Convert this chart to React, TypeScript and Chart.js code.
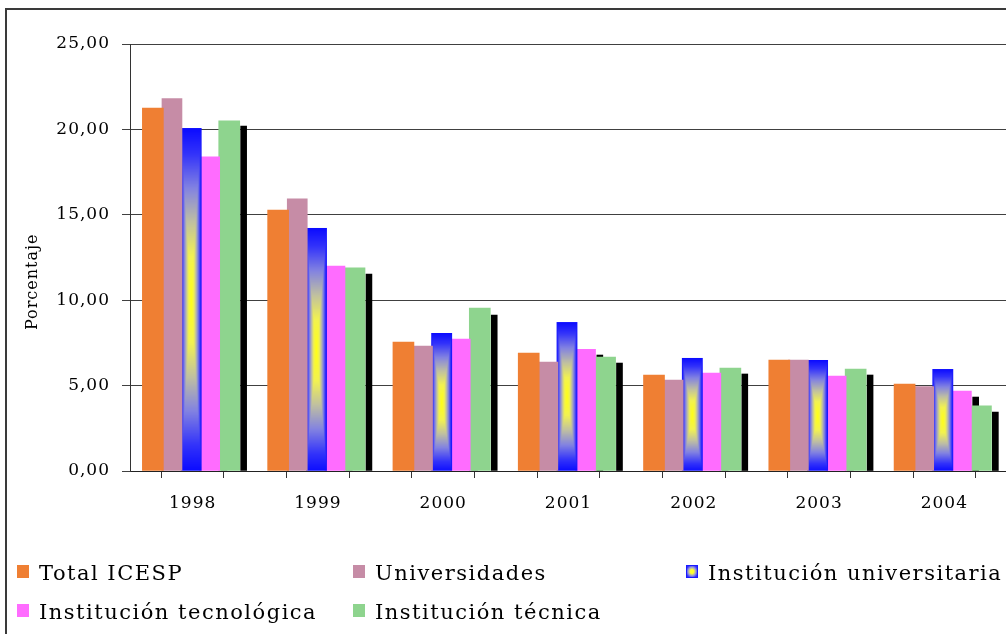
import React, { useEffect, useRef } from 'react';
import { Chart, registerables } from 'chart.js';

Chart.register(...registerables);

// ---------- data ----------
const YEARS = ['1998', '1999', '2000', '2001', '2002', '2003', '2004'];
const SERIES_LABELS = [
  'Total ICESP',
  'Universidades',
  'Institución universitaria',
  'Institución tecnológica',
  'Institución técnica',
];
const TOTAL_ICESP = [21.25, 15.28, 7.55, 6.91, 5.62, 6.5, 5.09];
const UNIVERSIDADES = [21.8, 15.93, 7.32, 6.38, 5.33, 6.5, 4.94];
const INST_UNIVERSITARIA = [20.08, 14.23, 8.08, 8.72, 6.62, 6.5, 5.97];
const INST_TECNOLOGICA = [18.4, 12.0, 7.73, 7.12, 5.74, 5.56, 4.68];
const INST_TECNICA = [20.5, 11.89, 9.54, 6.67, 6.03, 5.97, 3.81];
const SERIE_SIN_NOMBRE_A = [0, 0, 0, 6.79, 0, 0, 4.33];
const SERIE_SIN_NOMBRE_B = [20.2, 11.53, 9.13, 6.32, 5.68, 5.62, 3.45];
const Y_MAX = 25;
const Y_STEP = 5;
const Y_TITLE = 'Porcentaje';

// ---------- layout / style constants ----------
const OFFSETS = [-0.3175, -0.165, -0.012, 0.136, 0.292, 0.25, 0.407];
const THICK = [21, 20, 21, 20, 21, 6, 6];
const FONT = "'DejaVu Serif', serif";
const COLORS = ['#ef7f33', '#c68ca6', '#3030ff', '#ff6cff', '#8ed48e', '#000000', '#000000'];

const RAMP: [number, number[]][] = [
  [0, [255, 255, 20]],
  [0.25, [242, 242, 80]],
  [0.45, [192, 192, 160]],
  [0.65, [130, 130, 225]],
  [0.85, [50, 50, 250]],
  [1, [10, 10, 255]],
];
function rampColor(t: number) {
  for (let i = 1; i < RAMP.length; i++) {
    if (t <= RAMP[i][0]) {
      const [t0, c0] = RAMP[i - 1];
      const [t1, c1] = RAMP[i];
      const f = (t - t0) / (t1 - t0);
      return [0, 1, 2].map((k) => Math.round(c0[k] + (c1[k] - c0[k]) * f));
    }
  }
  return RAMP[RAMP.length - 1][1];
}

function blueFill(c: any) {
  if (c.type !== 'data') return COLORS[2];
  const chart = c.chart;
  const xs = chart.scales.x;
  const ys = chart.scales.y;
  if (!xs || !ys || !c.raw) return COLORS[2];
  const w = THICK[2];
  const cx = xs.getPixelForValue(c.raw.x);
  const top = ys.getPixelForValue(c.raw.y);
  const bottom = ys.getPixelForValue(0);
  const h = bottom - top;
  if (!isFinite(cx) || !isFinite(h) || h <= 1) return COLORS[2];
  const left = cx - w / 2;
  const W = Math.ceil(w);
  const H = Math.ceil(h);
  const off = document.createElement('canvas');
  off.width = W;
  off.height = H;
  const o = off.getContext('2d')!;
  const img = o.createImageData(W, H);
  for (let y = 0; y < H; y++) {
    const ty = Math.abs(y + 0.5 - H / 2) / (H / 2);
    for (let x = 0; x < W; x++) {
      const tx = Math.abs(x + 0.5 - W / 2) / (W / 2);
      const col = rampColor(Math.min(1, Math.max(tx, ty)));
      const p = (y * W + x) * 4;
      img.data[p] = col[0];
      img.data[p + 1] = col[1];
      img.data[p + 2] = col[2];
      img.data[p + 3] = 255;
    }
  }
  o.putImageData(img, 0, 0);
  const pat = chart.ctx.createPattern(off, 'no-repeat');
  pat.setTransform(new DOMMatrix([1, 0, 0, 1, left, top]));
  return pat;
}

const spacingPlugin = {
  id: 'letterSpacing',
  beforeUpdate(chart: any) {
    chart.ctx.letterSpacing = '1px';
  },
  beforeDraw(chart: any) {
    chart.ctx.letterSpacing = '1px';
  },
};

const LEGEND_BOX: any[] = [
  { background: COLORS[0] },
  { background: COLORS[1] },
  {
    background: 'radial-gradient(closest-side, #ffff30 0%, #ffff30 30%, #9a9ad8 65%, #3030ff 100%)',
    boxShadow: 'inset 0 0 0 1px #1a1aff',
  },
  { background: COLORS[3] },
  { background: COLORS[4] },
];
const LEGEND_POS = [
  [17, 565],
  [353, 565],
  [686, 565],
  [17, 604],
  [353, 604],
];

export default function App() {
  const ref = useRef<HTMLCanvasElement>(null);

  useEffect(() => {
    const canvas = ref.current!;
    const allSeries = [
      TOTAL_ICESP,
      UNIVERSIDADES,
      INST_UNIVERSITARIA,
      INST_TECNOLOGICA,
      INST_TECNICA,
      SERIE_SIN_NOMBRE_A,
      SERIE_SIN_NOMBRE_B,
    ];
    const datasets = allSeries.map((vals, k) => ({
      label: k < SERIES_LABELS.length ? SERIES_LABELS[k] : '',
      data: vals.map((v, i) => ({ x: i + OFFSETS[k], y: v })),
      backgroundColor: k === 2 ? blueFill : COLORS[k],
      borderWidth: 0,
      barThickness: THICK[k],
      grouped: false,
    }));

    const chart = new Chart(canvas, {
      type: 'bar',
      data: { datasets },
      plugins: [spacingPlugin],
      options: {
        animation: false,
        responsive: false,
        devicePixelRatio: 1,
        layout: { padding: { left: 14, top: 44, right: 10, bottom: 113 } },
        font: { family: FONT, size: 17 },
        color: '#000',
        plugins: {
          legend: { display: false },
          tooltip: { enabled: false },
        },
        scales: {
          x: {
            type: 'linear',
            min: -0.5,
            max: 6.5,
            offset: false,
            grid: { drawOnChartArea: false, drawTicks: true, tickLength: 7, color: '#333' },
            border: { display: true, color: '#222', width: 1 },
            ticks: {
              stepSize: 0.5,
              autoSkip: false,
              maxRotation: 0,
              minRotation: 0,
              padding: 15,
              color: '#000',
              font: { family: FONT, size: 17 },
              callback: (v: any) => (Number.isInteger(v) ? YEARS[v] : ''),
            },
            afterFit: (s: any) => {
              s.height = 50;
            },
          },
          y: {
            min: 0,
            max: Y_MAX,
            grid: { color: '#404040', tickLength: 8, lineWidth: 1 },
            border: { display: true, color: '#333', width: 1 },
            ticks: {
              stepSize: Y_STEP,
              padding: 12,
              color: '#000',
              font: { family: FONT, size: 17 },
              callback: (v: any) => Number(v).toFixed(2).replace('.', ','),
            },
            title: {
              display: true,
              text: Y_TITLE + '\u00a0'.repeat(8),
              color: '#000',
              font: { family: FONT, size: 16 },
              padding: { top: 9, bottom: 0 },
            },
            afterFit: (s: any) => {
              s.width = 116;
            },
          },
        },
      } as any,
    });
    return () => chart.destroy();
  }, []);

  return (
    <div
      style={{
        position: 'fixed',
        left: 0,
        top: 0,
        width: 1006,
        height: 634,
        overflow: 'hidden',
        background: '#fff',
      }}
    >
      <canvas
        ref={ref}
        width={1022}
        height={634}
        style={{ position: 'absolute', left: 0, top: 0, width: 1022, height: 634 }}
      />
      <div
        style={{
          position: 'absolute',
          left: 5,
          top: 8,
          width: 1200,
          height: 800,
          borderLeft: '2px solid #3a3a3a',
          borderTop: '2px solid #3a3a3a',
          pointerEvents: 'none',
        }}
      />
      {SERIES_LABELS.map((lab, k) => (
        <div key={lab}>
          <div
            style={{
              position: 'absolute',
              left: LEGEND_POS[k][0],
              top: LEGEND_POS[k][1],
              width: 12,
              height: 13,
              ...LEGEND_BOX[k],
            }}
          />
          <div
            style={{
              position: 'absolute',
              left: LEGEND_POS[k][0] + 22,
              top: LEGEND_POS[k][1] - 4,
              fontFamily: FONT,
              fontSize: 21,
              lineHeight: '24px',
              letterSpacing: '1.5px',
              whiteSpace: 'nowrap',
              color: '#000',
            }}
          >
            {lab}
          </div>
        </div>
      ))}
    </div>
  );
}
